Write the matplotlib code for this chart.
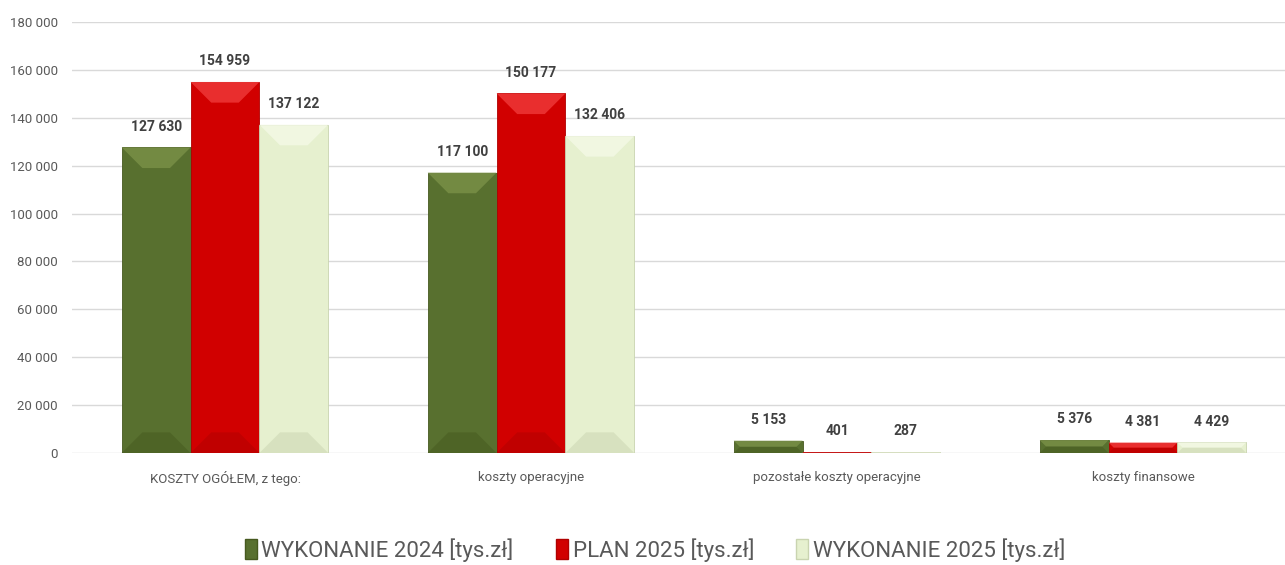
import numpy as np
import matplotlib.pyplot as plt
from matplotlib.patches import Polygon

plt.rcParams['font.family'] = ['Roboto', 'DejaVu Sans']

# dane
kategorie = ["KOSZTY OGÓŁEM, z tego:", "koszty operacyjne",
             "pozostałe koszty operacyjne", "koszty finansowe"]
serie = ["WYKONANIE 2024 [tys.zł]", "PLAN 2025 [tys.zł]", "WYKONANIE 2025 [tys.zł]"]
wykonanie_2024 = [127630, 117100, 5153, 5376]
plan_2025 = [154959, 150177, 401, 4381]
wykonanie_2025 = [137122, 132406, 287, 4429]

kolory = ["#58702f", "#d10000", "#e6f0cf"]
jasne = ["#7a9148", "#f03a3a", "#f4f9e6"]
ciemne = ["#46591f", "#b00000", "#c9d4b0"]

def fmt(v):
    return f"{v:,}".replace(",", " ")

fig = plt.figure(figsize=(12.85, 5.65), dpi=100)
ax = fig.add_axes([72 / 1285, 112 / 565, 1 - 72 / 1285, 431 / 565])

x = np.arange(len(kategorie))
w = 0.225
ax.set_xlim(-0.5, 3.5 - 11 / 306)
ax.set_ylim(0, 180000)

wartosci = [wykonanie_2024, plan_2025, wykonanie_2025]
for i, vals in enumerate(wartosci):
    bars = ax.bar(x + (i - 1) * w, vals, w, color=kolory[i], label=serie[i],
                  edgecolor=ciemne[i], linewidth=0.6, zorder=2)
    for b, v in zip(bars, vals):
        # prosty efekt fazy (bevel) jak w Excelu
        (x0, y0), (x1, y1) = ax.transData.transform([(b.get_x(), 0),
                                                     (b.get_x() + b.get_width(), v)])
        bw = x1 - x0
        bh = y1 - y0
        d = min(bw * 0.3, bh * 0.5)
        inv = ax.transData.inverted()
        top = inv.transform([(x0, y1), (x1, y1), (x1 - d, y1 - d), (x0 + d, y1 - d)])
        bot = inv.transform([(x0, y0), (x1, y0), (x1 - d, y0 + d), (x0 + d, y0 + d)])
        ax.add_patch(Polygon(top, closed=True, facecolor=jasne[i], edgecolor='none',
                             alpha=0.8, zorder=3))
        ax.add_patch(Polygon(bot, closed=True, facecolor=ciemne[i], edgecolor='none',
                             alpha=0.5, zorder=3))
        ax.annotate(fmt(v), (b.get_x() + b.get_width() / 2, v), xytext=(0, 10),
                    textcoords='offset points', ha='center', va='bottom',
                    fontsize=10, fontweight='bold', color='#404040', zorder=4)

ax.yaxis.grid(True, color='#d9d9d9', linewidth=1)
ax.set_axisbelow(True)
for s in ax.spines.values():
    s.set_visible(False)
ax.set_yticks(np.arange(0, 180001, 20000))
ax.set_yticklabels([fmt(t) for t in range(0, 180001, 20000)])
ax.set_xticks(x)
ax.set_xticklabels(kategorie)
ax.tick_params(axis='both', length=0, labelsize=9.5, colors='#595959')
ax.tick_params(axis='y', pad=10)
ax.tick_params(axis='x', pad=13)

handles = [plt.Rectangle((0, 0), 1, 1, facecolor=kolory[i], edgecolor=ciemne[i])
           for i in range(3)]
fig.legend(handles, serie, loc='center', bbox_to_anchor=(655 / 1285, 15 / 565), ncol=3,
           frameon=False, fontsize=16, labelcolor='#595959', handlelength=0.55,
           handleheight=1.0, handletextpad=0.2, columnspacing=1.9)

fig.savefig("out.png", dpi=100)
